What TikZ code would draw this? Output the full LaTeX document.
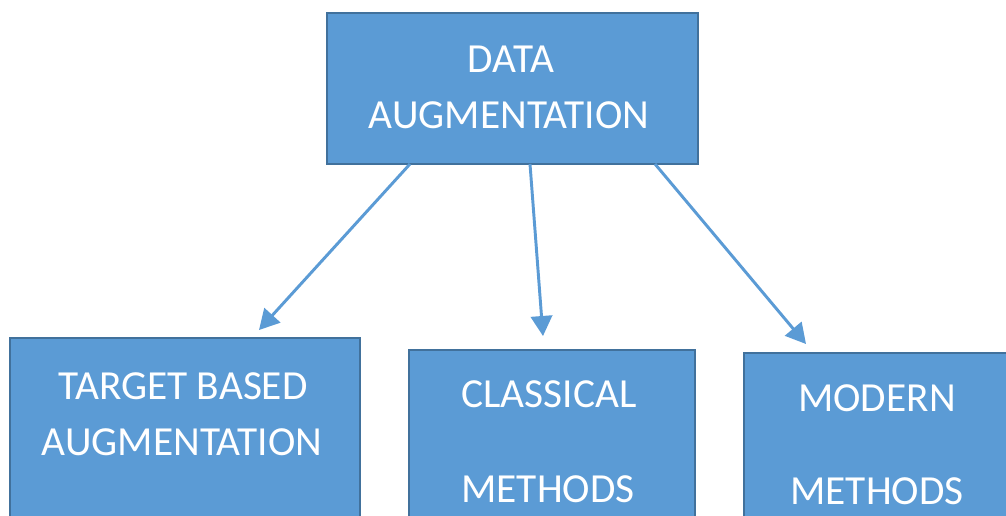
\documentclass[tikz,border=0pt]{standalone}
\usepackage{fontspec}
\setmainfont{Carlito}
\usetikzlibrary{arrows.meta}
\definecolor{boxfill}{HTML}{5B9BD5}
\definecolor{boxline}{HTML}{41719C}
\tikzset{
  blockbox/.style={draw=boxline, line width=1.5pt, fill=boxfill, rectangle, inner sep=0pt, anchor=north west},
  lbl/.style={text=white, font=\fontsize{31}{37}\selectfont, inner sep=0pt},
  conn/.style={draw=boxfill, line width=2.2pt, -{Triangle[length=15pt,width=16pt]}}
}
\begin{document}
\begin{tikzpicture}[x=0.75pt,y=-0.75pt]
\useasboundingbox (0,0) rectangle (1006,516);
\clip (0,0) rectangle (1006,516);
\fill[white] (0,0) rectangle (1006,516);
\node[blockbox, minimum width=371*0.75pt, minimum height=151*0.75pt] (top) at (326,12) {};
\node[blockbox, minimum width=350*0.75pt, minimum height=240*0.75pt] (tb) at (9,337) {};
\node[blockbox, minimum width=286*0.75pt, minimum height=220*0.75pt] (cm) at (408,349) {};
\node[blockbox, minimum width=290*0.75pt, minimum height=220*0.75pt] (mm) at (743,352) {};
\node[lbl] (l1) at (511,59) {DATA};
\node[lbl] (l2) at (509,115) {AUGMENTATION};
\node[lbl] (l3) at (183,386) {TARGET BASED};
\node[lbl] (l4) at (182,442) {AUGMENTATION};
\node[lbl] (l5) at (549,394) {CLASSICAL};
\node[lbl] (l6) at (548,489) {METHODS};
\node[lbl] (l7) at (877,398) {MODERN};
\node[lbl] (l8) at (877,491) {METHODS};
\coordinate (s1) at (410,164);
\coordinate (s2) at (530,164);
\coordinate (s3) at (655,164);
\coordinate (t1) at (259,330);
\coordinate (t2) at (543,336);
\coordinate (t3) at (806,344);
\draw[conn] (s1) -- (t1);
\draw[conn] (s2) -- (t2);
\draw[conn] (s3) -- (t3);
\end{tikzpicture}
\end{document}
